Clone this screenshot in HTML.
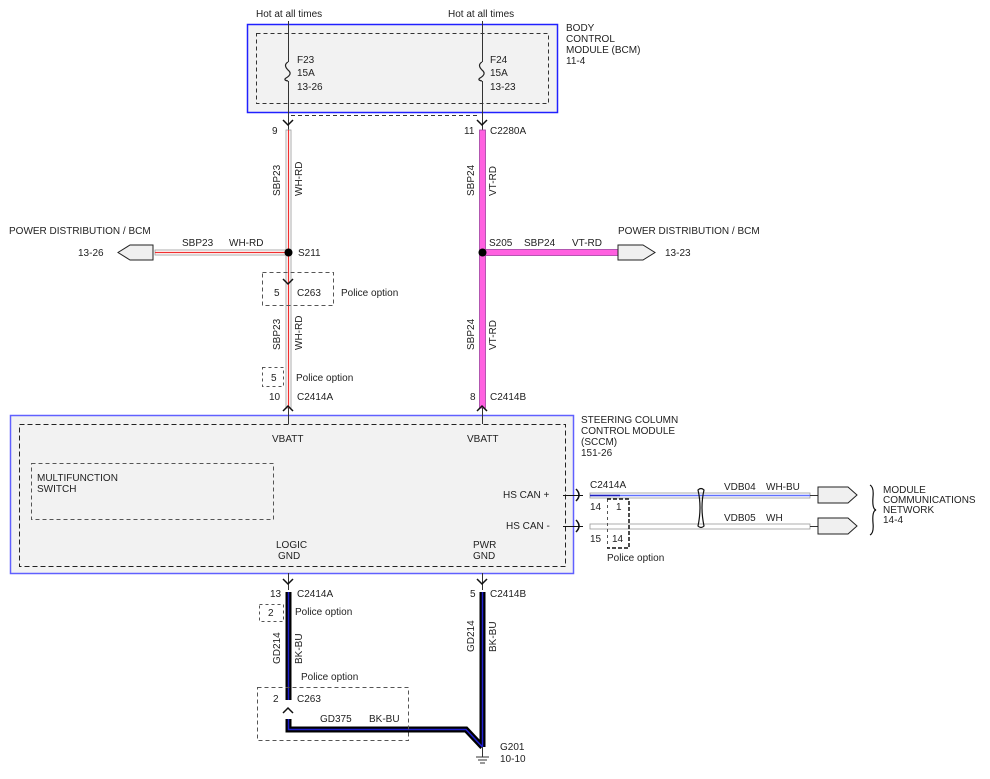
<!DOCTYPE html>
<html><head><style>
body{margin:0;background:#fff}
svg text{font-family:"Liberation Sans",sans-serif;font-size:10px;fill:#222}
</style></head><body>
<svg width="990" height="774" viewBox="0 0 990 774" xmlns="http://www.w3.org/2000/svg">
<!-- BCM -->
<rect x="247.5" y="24.5" width="310" height="88" fill="#f2f2f2" stroke="#2020ff" stroke-width="1.5"/>
<rect x="256.5" y="33.5" width="292" height="70" fill="none" stroke="#333" stroke-dasharray="4,3"/>
<text x="256" y="17">Hot at all times</text>
<text x="448" y="17">Hot at all times</text>
<line x1="288.5" y1="21" x2="288.5" y2="62" stroke="#333"/>
<line x1="288.5" y1="81" x2="288.5" y2="130" stroke="#333"/>
<path d="M288,62 q-5,3 0,8 q5,4 -2,8 q-3,2 2,3" fill="none" stroke="#222" stroke-width="1.2"/>
<line x1="482.5" y1="21" x2="482.5" y2="62" stroke="#333"/>
<line x1="482.5" y1="81" x2="482.5" y2="130" stroke="#333"/>
<path d="M482,62 q-5,3 0,8 q5,4 -2,8 q-3,2 2,3" fill="none" stroke="#222" stroke-width="1.2"/>
<text x="297" y="63">F23</text><text x="297" y="76">15A</text><text x="297" y="90">13-26</text>
<text x="490" y="63">F24</text><text x="490" y="76">15A</text><text x="490" y="90">13-23</text>
<text x="566" y="31">BODY</text><text x="566" y="42">CONTROL</text><text x="566" y="53">MODULE (BCM)</text><text x="566" y="64">11-4</text>
<line x1="291" y1="115.5" x2="480" y2="115.5" stroke="#333" stroke-dasharray="4,3"/>
<path d="M283,120 l5,5 l5,-5" fill="none" stroke="#111" stroke-width="1.5"/>
<path d="M477,120 l5,5 l5,-5" fill="none" stroke="#111" stroke-width="1.5"/>
<!-- left wire -->
<rect x="286" y="130" width="5" height="278" fill="#fff" stroke="#999" stroke-width="0.8"/>
<line x1="288.5" y1="130" x2="288.5" y2="408" stroke="#f03030" stroke-width="1.2"/>
<rect x="155" y="250" width="133" height="5" fill="#fff" stroke="#999" stroke-width="0.8"/>
<line x1="155" y1="252.5" x2="288" y2="252.5" stroke="#f03030" stroke-width="1.2"/>
<!-- right wire -->
<rect x="479.5" y="130" width="6" height="278" fill="#ff60e0" stroke="#a040a0" stroke-width="0.8"/>
<rect x="482" y="249.5" width="136" height="6" fill="#ff60e0" stroke="#a040a0" stroke-width="0.8"/>
<text x="272" y="134">9</text>
<text x="464" y="134">11</text><text x="490" y="134">C2280A</text>
<text transform="translate(280,196) rotate(-90)">SBP23</text>
<text transform="translate(302,196) rotate(-90)">WH-RD</text>
<text transform="translate(474,196) rotate(-90)">SBP24</text>
<text transform="translate(496,196) rotate(-90)">VT-RD</text>
<circle cx="288.5" cy="252.5" r="4" fill="#000"/>
<circle cx="482.5" cy="252.5" r="4" fill="#000"/>
<text x="298" y="256">S211</text><text x="489" y="246">S205</text>
<text x="9" y="234">POWER DISTRIBUTION / BCM</text>
<text x="182" y="246">SBP23</text><text x="229" y="246">WH-RD</text>
<path d="M153,245 h-23 l-12,7.5 l12,7.5 h23z" fill="#f0f0f0" stroke="#222"/>
<text x="78" y="256">13-26</text>
<text x="618" y="234">POWER DISTRIBUTION / BCM</text>
<text x="524" y="246">SBP24</text><text x="572" y="246">VT-RD</text>
<path d="M618,245 h25 l12,7.5 l-12,7.5 h-25z" fill="#f0f0f0" stroke="#222"/>
<text x="665" y="256">13-23</text>
<!-- C263 top -->
<rect x="262.5" y="272.5" width="71" height="33" fill="none" stroke="#555" stroke-dasharray="4,3"/>
<path d="M283,279 l5,5 l5,-5" fill="none" stroke="#111" stroke-width="1.5"/>
<text x="274" y="296">5</text><text x="297" y="296">C263</text><text x="341" y="296">Police option</text>
<text transform="translate(280,350) rotate(-90)">SBP23</text>
<text transform="translate(302,350) rotate(-90)">WH-RD</text>
<text transform="translate(474,350) rotate(-90)">SBP24</text>
<text transform="translate(496,350) rotate(-90)">VT-RD</text>
<rect x="262.5" y="367.5" width="21" height="19" fill="none" stroke="#555" stroke-dasharray="3,3"/>
<text x="271" y="381">5</text><text x="296" y="381">Police option</text>
<text x="269" y="400">10</text><text x="297" y="400">C2414A</text>
<text x="470" y="400">8</text><text x="490" y="400">C2414B</text>
<path d="M283,411 l5,-5 l5,5" fill="none" stroke="#111" stroke-width="1.5"/>
<path d="M477,411 l5,-5 l5,5" fill="none" stroke="#111" stroke-width="1.5"/>
<!-- SCCM -->
<rect x="10.5" y="415.5" width="563" height="158" fill="#f2f2f2" stroke="#6060ff" stroke-width="1.5"/>
<rect x="19.5" y="424.5" width="546" height="142" fill="none" stroke="#222" stroke-dasharray="5,3"/>
<line x1="288.5" y1="408" x2="288.5" y2="424" stroke="#333"/>
<line x1="482.5" y1="408" x2="482.5" y2="424" stroke="#333"/>
<text x="272" y="442">VBATT</text><text x="467" y="442">VBATT</text>
<rect x="31.5" y="463.5" width="242" height="56" fill="none" stroke="#555" stroke-dasharray="4,3"/>
<text x="37" y="481">MULTIFUNCTION</text><text x="37" y="492">SWITCH</text>
<text x="503" y="498">HS CAN +</text><text x="506" y="529">HS CAN -</text>
<text x="276" y="548">LOGIC</text><text x="278" y="559">GND</text>
<text x="473" y="548">PWR</text><text x="473" y="559">GND</text>
<text x="581" y="423">STEERING COLUMN</text><text x="581" y="434">CONTROL MODULE</text><text x="581" y="445">(SCCM)</text><text x="581" y="456">151-26</text>
<!-- CAN -->
<path d="M563,495.5 h20 M563,526.5 h20" stroke="#111"/>
<path d="M576,489 q6,6 0,12 M576,520 q6,6 0,12" fill="none" stroke="#111" stroke-width="1.5"/>
<rect x="590" y="493" width="220" height="5" fill="#fff" stroke="#999" stroke-width="0.8"/>
<line x1="590" y1="495.5" x2="810" y2="495.5" stroke="#6070ff" stroke-width="1.5"/>
<line x1="590" y1="495.5" x2="620" y2="495.5" stroke="#2020c0" stroke-width="1.5"/>
<rect x="590" y="524" width="220" height="5" fill="#fff" stroke="#999" stroke-width="0.8"/>
<line x1="810" y1="495.5" x2="818" y2="495.5" stroke="#333"/>
<line x1="810" y1="526.5" x2="818" y2="526.5" stroke="#333"/>
<path d="M698,490 q3,-3 6,0 q-4,17 0,36 q-3,3 -6,0 q4,-19 0,-36z" fill="none" stroke="#111" stroke-width="1.2"/>
<text x="590" y="488">C2414A</text>
<text x="724" y="490">VDB04</text><text x="766" y="490">WH-BU</text>
<text x="724" y="521">VDB05</text><text x="766" y="521">WH</text>
<line x1="607.5" y1="499" x2="607.5" y2="548" stroke="#555" stroke-dasharray="3,3"/>
<path d="M607,499 h22 v49 h-22" fill="none" stroke="#111" stroke-width="1.5" stroke-dasharray="4,2"/>
<text x="590" y="510">14</text><text x="616" y="510">1</text>
<text x="590" y="542">15</text><text x="612" y="542">14</text>
<text x="607" y="561">Police option</text>
<path d="M818,487 h30 l9,8 l-9,8 h-30z" fill="#f0f0f0" stroke="#222"/>
<path d="M818,518 h30 l9,8 l-9,8 h-30z" fill="#f0f0f0" stroke="#222"/>
<path d="M870,485 q4,2 3,12 q-1,12 3,13 q-4,1 -3,13 q1,10 -3,12" fill="none" stroke="#111" stroke-width="1.2"/>
<text x="883" y="493">MODULE</text><text x="883" y="503">COMMUNICATIONS</text><text x="883" y="513">NETWORK</text><text x="883" y="523">14-4</text>
<!-- grounds -->
<line x1="288.5" y1="573" x2="288.5" y2="590" stroke="#333"/>
<line x1="482.5" y1="573" x2="482.5" y2="590" stroke="#333"/>
<path d="M283,579 l5,5 l5,-5" fill="none" stroke="#111" stroke-width="1.5"/>
<path d="M477,579 l5,5 l5,-5" fill="none" stroke="#111" stroke-width="1.5"/>
<text x="270" y="597">13</text><text x="297" y="597">C2414A</text>
<text x="470" y="597">5</text><text x="490" y="597">C2414B</text>
<line x1="288.5" y1="592" x2="288.5" y2="700" stroke="#000" stroke-width="6"/>
<line x1="288.5" y1="592" x2="288.5" y2="700" stroke="#2020d0" stroke-width="1.5"/>
<path d="M482.5,592 V747" stroke="#000" stroke-width="6" fill="none"/>
<path d="M288.5,719 V729.5 H466 L482.5,747" stroke="#000" stroke-width="6" fill="none"/>
<path d="M482.5,592 V747 M288.5,719 V729.5 H466 L482.5,747" stroke="#2020d0" stroke-width="1.5" fill="none"/>
<rect x="259.5" y="604.5" width="24" height="17" fill="none" stroke="#555" stroke-dasharray="3,3"/>
<text x="268" y="616">2</text><text x="295" y="615">Police option</text>
<text transform="translate(280,664) rotate(-90)">GD214</text>
<text transform="translate(302,664) rotate(-90)">BK-BU</text>
<text transform="translate(474,652) rotate(-90)">GD214</text>
<text transform="translate(496,652) rotate(-90)">BK-BU</text>
<text x="301" y="680">Police option</text>
<rect x="257.5" y="687.5" width="151" height="53" fill="none" stroke="#555" stroke-dasharray="4,3"/>
<text x="273" y="702">2</text><text x="297" y="702">C263</text>
<path d="M283,713 l5,-5 l5,5" fill="none" stroke="#111" stroke-width="1.5"/>
<text x="320" y="722">GD375</text><text x="369" y="722">BK-BU</text>
<line x1="482.5" y1="747" x2="482.5" y2="757" stroke="#333"/>
<path d="M476,757 h13 M478,760 h9 M480,763 h5" stroke="#333"/>
<text x="500" y="750">G201</text><text x="500" y="762">10-10</text>
</svg>
</body></html>
